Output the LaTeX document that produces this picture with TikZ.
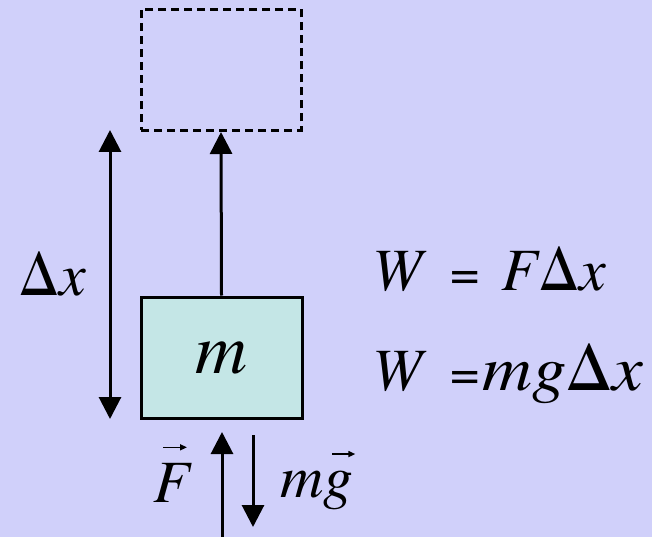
\documentclass[tikz,border=0pt]{standalone}
\usepackage{fontspec}
\setmainfont{TeX Gyre Termes}
\usetikzlibrary{arrows.meta}
\definecolor{bgc}{RGB}{208,208,250}
\definecolor{massc}{RGB}{196,230,230}
\begin{document}
\begin{tikzpicture}[x=1pt,y=-1pt,
  line width=3pt,
  arr/.style={-{Triangle[length=22pt,width=22pt]}},
  darr/.style={{Triangle[length=22pt,width=22pt]}-{Triangle[length=22pt,width=22pt]}},
  txt/.style={inner sep=0pt, font=\fontsize{60}{60}\selectfont},
  vecarr/.style={line width=1.5pt,-{Triangle[length=7pt,width=6pt]}}]
\fill[bgc] (0,0) rectangle (652,537);
\useasboundingbox (0,0) rectangle (652,537);
% boxes
\node[draw, dash pattern=on 8pt off 5pt, minimum width=160pt, minimum height=121pt, inner sep=0pt] (ghost) at (221,70) {};
\node[draw, fill=massc, minimum width=161pt, minimum height=121pt, inner sep=0pt, font=\fontsize{72}{72}\selectfont\itshape] (mass) at (221.5,357.5) {m};
\draw[arr] (mass.north) -- (ghost.south);
% displacement
\coordinate (dtop) at (110,130);
\coordinate (dbot) at (110,419);
\draw[darr] (dtop) -- (dbot);
\node[txt, anchor=base west] (dx) at (18,295) {Δ\textit{x}};
% forces
\coordinate (fbot) at (222,545);
\coordinate (ftop) at (222,432);
\draw[arr] (fbot) -- (ftop);
\coordinate (gtop) at (253,435);
\coordinate (gbot) at (253,527);
\draw[arr] (gtop) -- (gbot);
\node[txt, anchor=base west] (F) at (152,502) {\textit{F}};
\draw[vecarr] ([shift={(11,-14)}]F.north west) -- ([shift={(35,-14)}]F.north west);
\node[txt, anchor=base west] (mg) at (279,497) {\textit{mg}};
\draw[vecarr] ([shift={(-23,-15)}]mg.north east) -- ([shift={(0,-15)}]mg.north east);
% equations
\node[txt, anchor=base west] (eq1) at (371,290) {\textit{W}\hspace{24pt}{\fontsize{52}{52}\selectfont=}\hspace{21pt}\textit{F}Δ\textit{x}};
\node[txt, anchor=base west] (eq2) at (371,390) {\textit{W}\hspace{24pt}{\fontsize{52}{52}\selectfont=}\hspace{2pt}\scalebox{1.08}[1]{\fontsize{64}{64}\selectfont\textit{mg}Δ\textit{x}}};
\end{tikzpicture}
\end{document}
